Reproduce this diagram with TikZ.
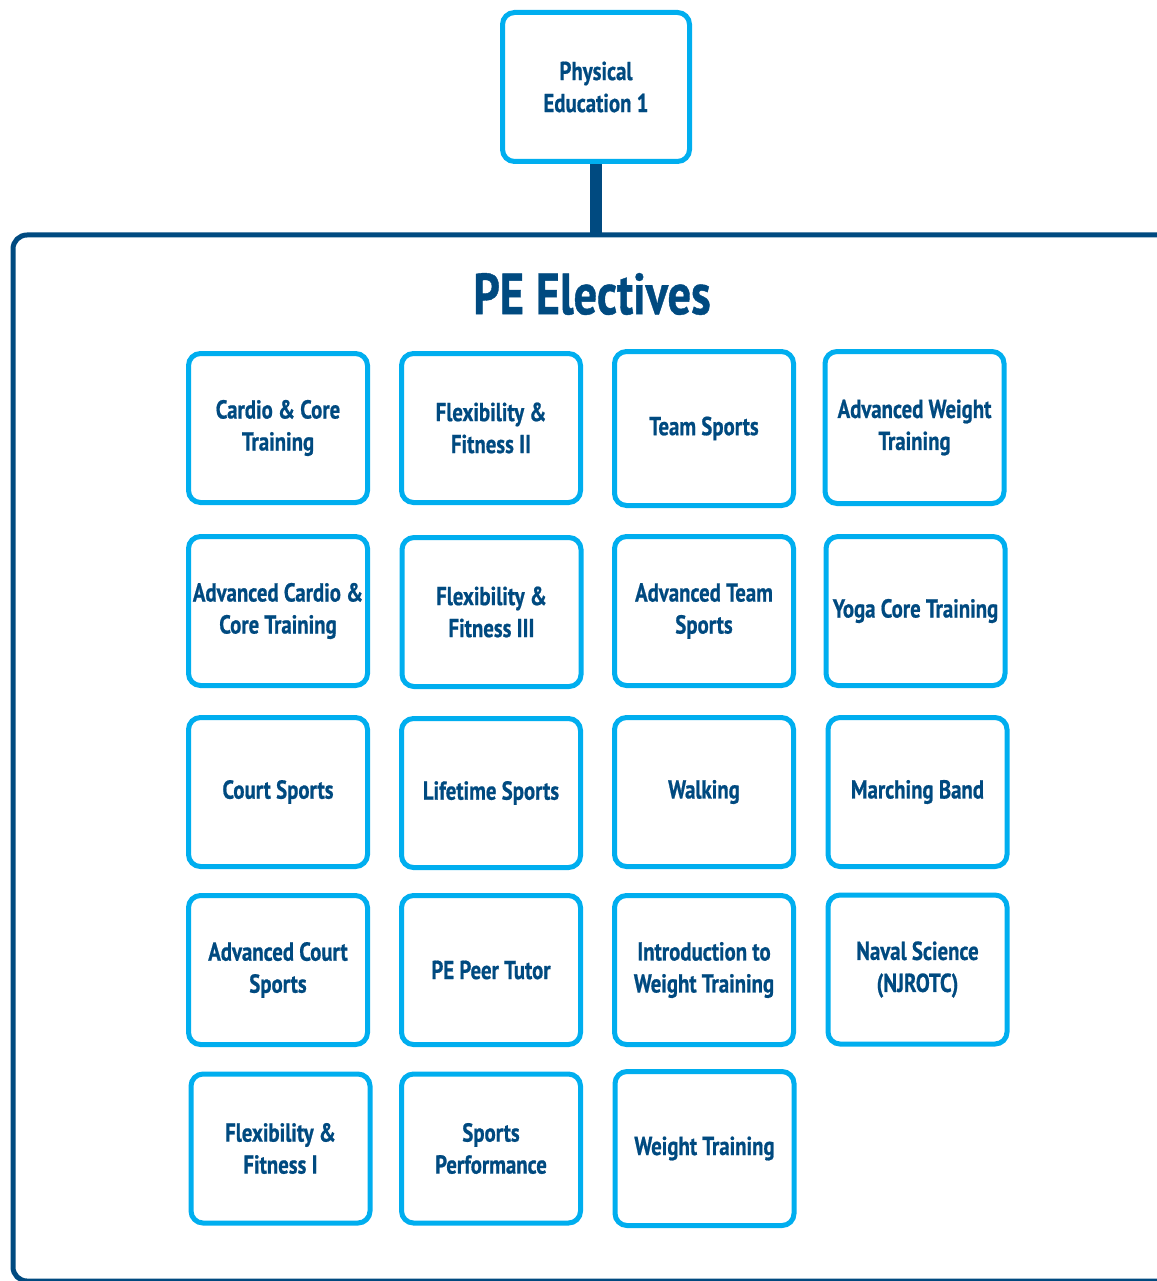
\documentclass[tikz,border=0pt]{standalone}
\usepackage{fontspec}
\setmainfont{PT Sans}[FakeStretch=0.8, BoldFeatures={FakeBold=0.7}]
\usetikzlibrary{arrows,shapes}
\definecolor{penavy}{HTML}{004A80}
\definecolor{pecyan}{HTML}{00AEEF}

\begin{document}
\begin{tikzpicture}[x=1pt,y=-1pt,
    course/.style={draw=pecyan, line width=5pt, rounded corners=12pt, fill=white,
        minimum width=179pt, minimum height=149pt, inner sep=0pt, align=center,
        text=penavy, font=\bfseries\fontsize{26}{32}\selectfont},
    heading/.style={text=penavy, inner sep=0pt, font=\bfseries\fontsize{58}{60}\selectfont},
    frame/.style={draw=penavy, line width=5pt, rounded corners=14pt},
    link/.style={draw=penavy, line width=12pt}]
    \useasboundingbox (0,0) rectangle (1156,1281);
    \draw [frame] (1190,235) -- (13,235) -- (13,1281) -- (1190,1281);
    \coordinate (frametop) at (596,235);
    \node [course, minimum width=187pt] (pe1) at (596,87) {Physical\\Education 1};
    \draw [link] (pe1.south) -- (frametop);
    \node [heading] (electives) at (592,294) {PE Electives};
    \node [course] (cardio) at (278,428) {Cardio \& Core\\Training};
    \node [course] (flextwo) at (491,428) {Flexibility \&\\Fitness II};
    \node [course, minimum height=154pt] (team) at (704,428.5) {Team Sports};
    \node [course, minimum height=152pt] (advweight) at (914.5,427.5) {Advanced Weight\\Training};
    \node [course] (advcardio) at (278,611) {Advanced Cardio \&\\Core Training};
    \node [course] (flexthree) at (491.5,612) {Flexibility \&\\Fitness III};
    \node [course] (advteam) at (704,611) {Advanced Team\\Sports};
    \node [course] (yoga) at (915.5,611) {Yoga Core Training};
    \node [course] (court) at (278,792) {Court Sports};
    \node [course] (lifetime) at (491,793) {Lifetime Sports};
    \node [course] (walking) at (704,792) {Walking};
    \node [course] (band) at (917.5,792) {Marching Band};
    \node [course] (advcourt) at (278,970) {Advanced Court\\Sports};
    \node [course] (tutor) at (491,970) {PE Peer Tutor};
    \node [course] (introweight) at (704,970) {Introduction to\\Weight Training};
    \node [course] (naval) at (917.5,969.5) {Naval Science\\(NJROTC)};
    \node [course] (flexone) at (280.5,1148.5) {Flexibility \&\\Fitness I};
    \node [course] (sportsperf) at (491,1148.5) {Sports\\Performance};
    \node [course, minimum height=154pt] (weight) at (704.5,1148.5) {Weight Training};
\end{tikzpicture}
\end{document}
